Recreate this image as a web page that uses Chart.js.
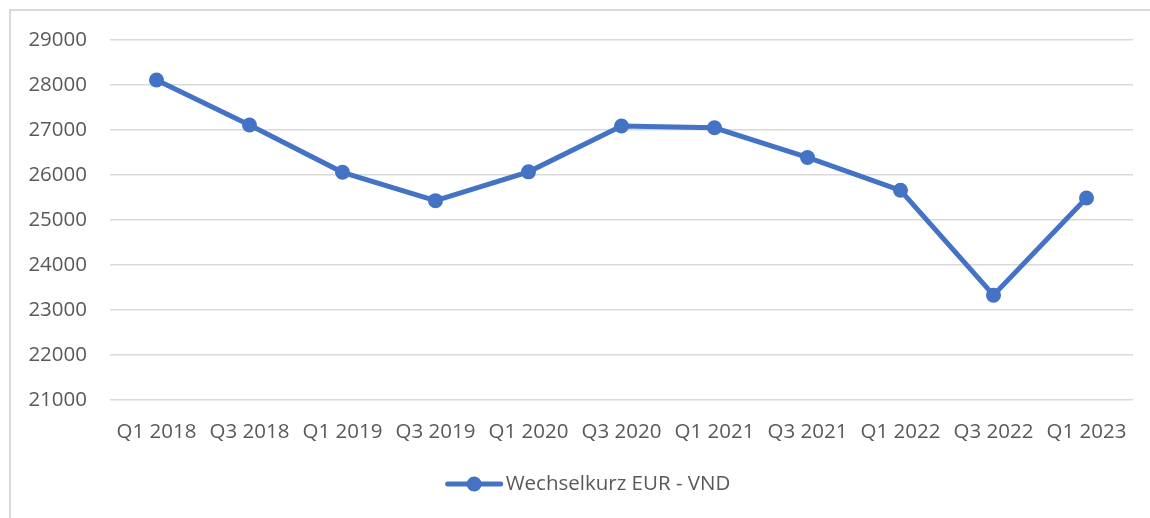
<!DOCTYPE html>
<html>
<head>
<meta charset="utf-8">
<script src="https://cdn.jsdelivr.net/npm/chart.js@4/dist/chart.umd.min.js"></script>
<style>
  html, body { margin: 0; padding: 0; background: #fff; }
  #frame { position: absolute; left: 9px; top: 9px; width: 1200px; height: 600px; border: 2px solid #d9d9d9; box-sizing: border-box; }
  #wrap { position: absolute; left: 0; top: 0; width: 1150px; height: 518px; }
</style>
</head>
<body>
<div id="frame"></div>
<div id="wrap"><canvas id="c" width="1150" height="518"></canvas></div>
<script>
const categories = ['Q1 2018','Q3 2018','Q1 2019','Q3 2019','Q1 2020','Q3 2020','Q1 2021','Q3 2021','Q1 2022','Q3 2022','Q1 2023'];
const seriesLabel = 'Wechselkurz EUR - VND';
const rateValues = [28110, 27110, 26060, 25430, 26070, 27090, 27050, 26390, 25660, 23330, 25490];
const yMin = 21000, yMax = 29000, yStep = 1000;

const COLOR = '#4472C4';
const TEXT = '#595959';
const FONT = "'Open Sans', sans-serif";

const legendPlugin = {
  id: 'customLegend',
  afterDraw(chart) {
    const ctx = chart.ctx;
    const ds = chart.data.datasets[0];
    ctx.save();
    ctx.font = '20.5px ' + FONT;
    const tw = ctx.measureText(ds.label).width;
    const lineW = 57, gap = 3;
    const total = lineW + gap + tw;
    const x0 = 588 - total / 2;
    const y = 484;
    ctx.strokeStyle = ds.borderColor;
    ctx.lineWidth = 5;
    ctx.lineCap = 'round';
    ctx.beginPath();
    ctx.moveTo(x0 + 2, y);
    ctx.lineTo(x0 + lineW - 2, y);
    ctx.stroke();
    ctx.fillStyle = ds.backgroundColor;
    ctx.beginPath();
    ctx.arc(x0 + lineW / 2, y, 7.5, 0, Math.PI * 2);
    ctx.fill();
    ctx.fillStyle = TEXT;
    ctx.textBaseline = 'middle';
    ctx.textAlign = 'left';
    ctx.fillText(ds.label, x0 + lineW + gap, y);
    ctx.restore();
  }
};

new Chart(document.getElementById('c'), {
  type: 'line',
  data: {
    labels: categories,
    datasets: [{
      label: seriesLabel,
      data: rateValues,
      borderColor: COLOR,
      backgroundColor: COLOR,
      borderWidth: 5,
      pointRadius: 7.5,
      pointHoverRadius: 7.5,
      pointBorderWidth: 0,
      tension: 0
    }]
  },
  options: {
    responsive: false,
    animation: false,
    devicePixelRatio: 1,
    layout: { padding: { left: 0, right: 17, top: 40, bottom: 68 } },
    plugins: { legend: { display: false }, tooltip: { enabled: false } },
    scales: {
      x: {
        offset: true,
        grid: { display: false, drawTicks: false },
        border: { display: false },
        ticks: { color: TEXT, font: { family: FONT, size: 20.5 }, padding: 20, maxRotation: 0, autoSkip: false },
        afterFit(s) { s.height = 50; }
      },
      y: {
        min: yMin, max: yMax,
        grid: { color: '#d9d9d9', lineWidth: 1.5, drawTicks: false },
        border: { display: false },
        ticks: { stepSize: yStep, color: TEXT, font: { family: FONT, size: 20.5 }, padding: 23, callback: (v) => String(v) },
        afterFit(s) { s.width = 110; }
      }
    }
  },
  plugins: [legendPlugin]
});
</script>
</body>
</html>
